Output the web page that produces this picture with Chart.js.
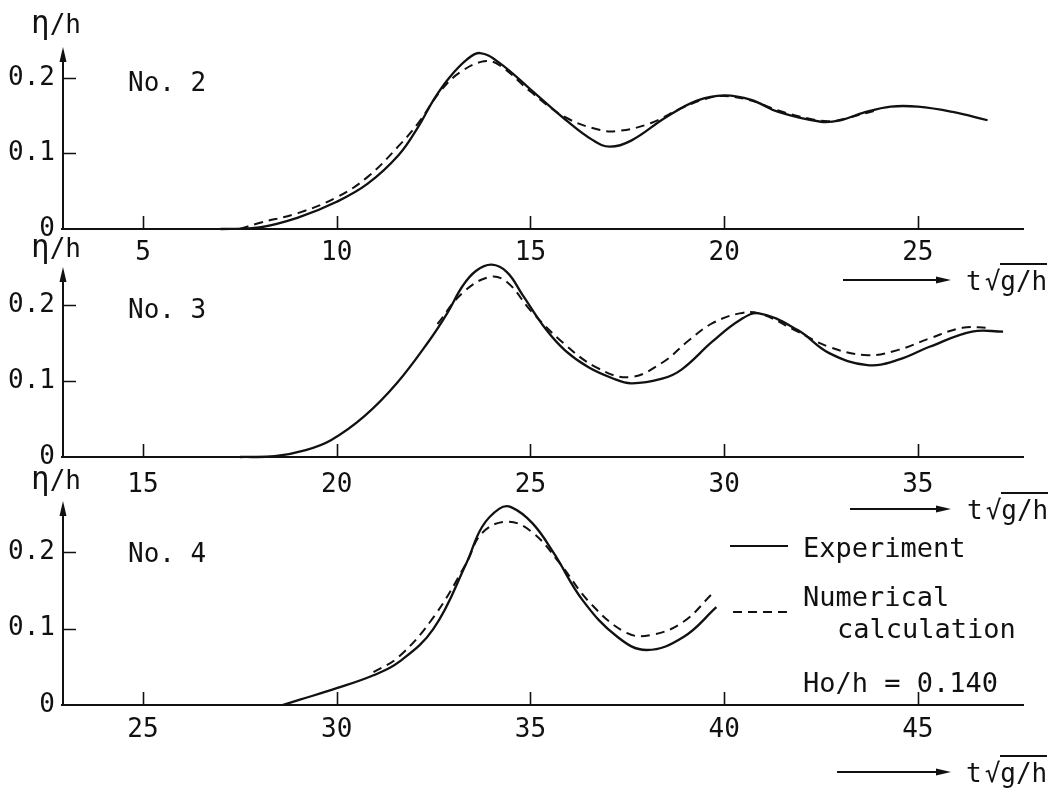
<!DOCTYPE html>
<html>
<head>
<meta charset="utf-8">
<script src="https://cdn.jsdelivr.net/npm/chart.js@4.4.1/dist/chart.umd.min.js"></script>
<style>
  body { margin: 0; background: #fff; }
  #wrap { position: relative; width: 1053px; height: 788px; overflow: hidden; font-family: 'DejaVu Sans Mono', monospace; color: #111; }
  #wrap canvas { position: absolute; left: 0; top: 0; }
  .lbl { position: absolute; white-space: pre; line-height: 1; transform: translateY(-50%); font-size: 26px; }
  .big { font-size: 27px; }
  .eta { font-size: 31px; }
  .ov { border-top: 2px solid #111; padding-top: 1px; }
  svg { position: absolute; left: 0; top: 0; }
</style>
</head>
<body>
<div id="wrap">
  <canvas id="c2" width="1053" height="788"></canvas>
  <canvas id="c3" width="1053" height="788"></canvas>
  <canvas id="c4" width="1053" height="788"></canvas>
  <svg width="1053" height="788" id="marks"></svg>
</div>
<script>
// ---- data (t*sqrt(g/h), eta/h) ----
const no2ExpT = [7.0, 8.0, 9.0, 10.0, 10.8, 11.6, 12.1, 12.5, 12.9, 13.35, 13.7, 14.2, 15.0, 15.9, 16.6, 17.05, 17.6, 18.5, 19.3, 20.0, 20.7, 21.4, 22.5, 23.0, 23.6, 24.3, 25.0, 25.9, 26.8];
const no2ExpV = [0, 0.002, 0.015, 0.036, 0.060, 0.098, 0.135, 0.171, 0.200, 0.224, 0.233, 0.220, 0.185, 0.145, 0.118, 0.109, 0.117, 0.148, 0.170, 0.177, 0.171, 0.155, 0.142, 0.144, 0.154, 0.162, 0.162, 0.155, 0.144];
const no2NumT = [7.5, 8.0, 9.0, 10.0, 10.8, 11.6, 12.1, 12.7, 13.2, 13.8, 14.2, 15.0, 15.9, 16.8, 17.3, 18.1, 18.9, 19.5, 20.0, 20.7, 21.4, 22.2, 22.8, 23.4, 24.0];
const no2NumV = [0, 0.008, 0.021, 0.042, 0.069, 0.110, 0.140, 0.184, 0.208, 0.222, 0.217, 0.182, 0.148, 0.131, 0.130, 0.140, 0.160, 0.172, 0.176, 0.170, 0.157, 0.146, 0.143, 0.150, 0.158];

const no3ExpT = [17.5, 18.4, 19.2, 19.85, 20.7, 21.55, 22.4, 22.85, 23.25, 23.6, 24.0, 24.4, 24.8, 25.4, 25.9, 26.5, 27.1, 27.6, 28.4, 28.9, 29.7, 30.4, 30.9, 31.9, 32.7, 33.7, 34.5, 35.3, 36.4, 37.2];
const no3ExpV = [0, 0.001, 0.009, 0.022, 0.053, 0.097, 0.154, 0.189, 0.225, 0.245, 0.253, 0.243, 0.213, 0.168, 0.140, 0.118, 0.104, 0.097, 0.103, 0.115, 0.152, 0.180, 0.189, 0.167, 0.137, 0.121, 0.128, 0.145, 0.165, 0.165];
const no3NumT = [22.6, 23.25, 23.95, 24.4, 25.0, 25.85, 26.7, 27.55, 28.4, 29.1, 29.7, 30.4, 30.9, 31.9, 32.7, 33.7, 34.5, 35.3, 36.15, 36.8];
const no3NumV = [0.175, 0.216, 0.237, 0.230, 0.193, 0.150, 0.118, 0.105, 0.124, 0.154, 0.176, 0.189, 0.189, 0.165, 0.145, 0.134, 0.141, 0.156, 0.170, 0.170];

const no4ExpT = [28.6, 29.05, 30.0, 30.95, 31.6, 32.5, 33.35, 33.75, 34.2, 34.5, 35.05, 35.6, 36.35, 37.25, 38.0, 38.95, 39.8];
const no4ExpV = [0, 0.007, 0.022, 0.039, 0.056, 0.100, 0.186, 0.233, 0.257, 0.259, 0.238, 0.199, 0.137, 0.089, 0.072, 0.089, 0.128];
const no4NumT = [30.95, 31.6, 32.5, 33.35, 33.75, 34.4, 35.05, 35.75, 36.55, 37.5, 38.15, 38.95, 39.7];
const no4NumV = [0.043, 0.063, 0.115, 0.186, 0.225, 0.240, 0.226, 0.186, 0.133, 0.094, 0.092, 0.109, 0.146];

const no2Ticks = [5, 10, 15, 20, 25];
const no3Ticks = [15, 20, 25, 30, 35];
const no4Ticks = [25, 30, 35, 40, 45];
const yTicks = [0, 0.1, 0.2];

const FONT = "'DejaVu Sans Mono', monospace";
const W = 1053, H = 788;

const panels = [
  { id: "c2", expT: no2ExpT, expV: no2ExpV, numT: no2NumT, numV: no2NumV, ticks: no2Ticks, xMin: 2.935, xMax: 27.74, yMax: 0.241, top: 47, bottom: 229, pad: 11 },
  { id: "c3", expT: no3ExpT, expV: no3ExpV, numT: no3NumT, numV: no3NumV, ticks: no3Ticks, xMin: 12.935, xMax: 37.74, yMax: 0.25, top: 267, bottom: 457, pad: 15 },
  { id: "c4", expT: no4ExpT, expV: no4ExpV, numT: no4NumT, numV: no4NumV, ticks: no4Ticks, xMin: 22.935, xMax: 47.74, yMax: 0.267, top: 501, bottom: 705, pad: 12 }
];

const toPoints = (ts, vs) => ts.map((t, i) => ({ x: t, y: vs[i] }));

// axes drawn like the paper: arrow on y, inward ticks
const paperAxes = {
  id: "paperAxes",
  afterDraw(chart) {
    const { ctx, chartArea: a, scales: { x, y } } = chart;
    ctx.save();
    ctx.strokeStyle = "#111";
    ctx.fillStyle = "#111";
    ctx.lineWidth = 2;
    ctx.beginPath();
    ctx.moveTo(a.left - 2, a.bottom);
    ctx.lineTo(a.right, a.bottom);
    ctx.moveTo(a.left, a.bottom);
    ctx.lineTo(a.left, a.top + 8);
    ctx.stroke();
    ctx.beginPath();
    ctx.moveTo(a.left, a.top);
    ctx.lineTo(a.left - 3.5, a.top + 15);
    ctx.lineTo(a.left + 3.5, a.top + 15);
    ctx.closePath();
    ctx.fill();

    ctx.lineWidth = 1.6;
    ctx.beginPath();
    x.ticks.forEach(t => {
      const px = Math.round(x.getPixelForValue(t.value)) + 0.5;
      ctx.moveTo(px, a.bottom);
      ctx.lineTo(px, a.bottom - 13);
    });
    y.ticks.forEach(t => {
      if (t.value === 0) return;
      const py = Math.round(y.getPixelForValue(t.value)) + 0.5;
      ctx.moveTo(a.left, py);
      ctx.lineTo(a.left + 13, py);
    });
    ctx.stroke();
    ctx.restore();
  }
};

panels.forEach(p => {
  new Chart(document.getElementById(p.id), {
    type: "line",
    data: {
      datasets: [
        {
          label: "Experiment",
          data: toPoints(p.expT, p.expV),
          borderColor: "#111",
          borderWidth: 2.3,
          pointRadius: 0,
          tension: 0.4,
          clip: false,
          fill: false
        },
        {
          label: "Numerical calculation",
          data: toPoints(p.numT, p.numV),
          borderColor: "#111",
          borderWidth: 2,
          borderDash: [9, 6],
          pointRadius: 0,
          tension: 0.4,
          clip: false,
          fill: false
        }
      ]
    },
    options: {
      responsive: false,
      animation: false,
      events: [],
      elements: { line: { capBezierPoints: false } },
      layout: { padding: { top: p.top, right: W - 1024, left: 0, bottom: 0 } },
      plugins: { legend: { display: false }, tooltip: { enabled: false } },
      scales: {
        x: {
          type: "linear",
          min: p.xMin,
          max: p.xMax,
          grid: { display: false, drawTicks: false },
          border: { display: false },
          afterBuildTicks: s => { s.ticks = p.ticks.map(v => ({ value: v })); },
          afterFit: s => { s.height = H - p.bottom; },
          ticks: {
            color: "#111",
            padding: p.pad,
            maxRotation: 0,
            autoSkip: false,
            font: { family: FONT, size: 26, lineHeight: 1 },
            callback: v => String(v)
          }
        },
        y: {
          type: "linear",
          min: 0,
          max: p.yMax,
          grid: { display: false, drawTicks: false },
          border: { display: false },
          afterBuildTicks: s => { s.ticks = yTicks.map(v => ({ value: v })); },
          afterFit: s => { s.width = 63; },
          ticks: {
            color: "#111",
            padding: 8,
            font: { family: FONT, size: 26, lineHeight: 1 },
            callback: v => (v === 0 ? "0" : v.toFixed(1))
          }
        }
      }
    },
    plugins: [paperAxes]
  });
});

// ---- text and small marks around the plots ----
const wrap = document.getElementById("wrap");
function label(html, left, cy, cls) {
  const d = document.createElement("div");
  d.className = "lbl" + (cls ? " " + cls : "");
  d.style.left = left + "px";
  d.style.top = cy + "px";
  d.innerHTML = html;
  wrap.appendChild(d);
}

[22, 246, 478].forEach(cy => label('<span class="eta">η</span>/h', 31, cy));
label("No. 2", 128, 82);
label("No. 3", 128, 309);
label("No. 4", 128, 553);

const tAxis = 't<span style="margin-left:3px">√</span><span class="ov">g/h</span>';
label(tAxis, 966, 281);
label(tAxis, 967, 510);
label(tAxis, 966, 773);

label("Experiment", 803, 547, "big");
label("Numerical", 803, 596, "big");
label("calculation", 837, 628, "big");
label("Ho/h = 0.140", 803, 682, "big");

const svg = document.getElementById("marks");
const NS = "http://www.w3.org/2000/svg";
function el(tag, attrs) {
  const e = document.createElementNS(NS, tag);
  Object.entries(attrs).forEach(([k, v]) => e.setAttribute(k, v));
  svg.appendChild(e);
}
function arrow(x1, x2, y) {
  el("line", { x1, y1: y, x2: x2 - 10, y2: y, stroke: "#111", "stroke-width": 2 });
  el("polygon", { points: `${x2},${y} ${x2 - 15},${y - 3.5} ${x2 - 15},${y + 3.5}`, fill: "#111" });
}
arrow(843, 951, 280);
arrow(850, 951, 509);
arrow(837, 951, 772);

el("line", { x1: 730, y1: 546, x2: 788, y2: 546, stroke: "#111", "stroke-width": 2 });
el("line", { x1: 733, y1: 612, x2: 788, y2: 612, stroke: "#111", "stroke-width": 2, "stroke-dasharray": "9 6" });
</script>
</body>
</html>
